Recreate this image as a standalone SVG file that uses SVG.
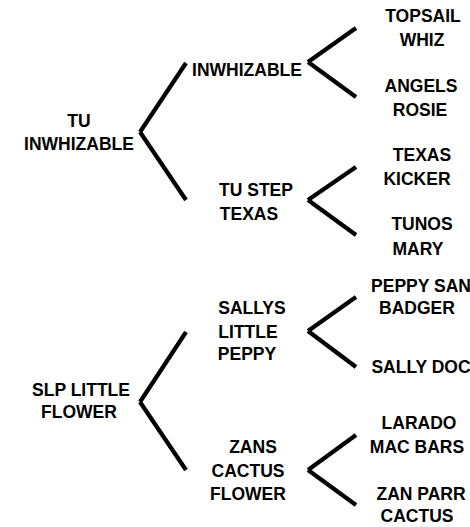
<svg xmlns="http://www.w3.org/2000/svg" width="470" height="527" viewBox="0 0 470 527">
<style>
text{font-family:"Liberation Sans",Arial,sans-serif;font-weight:bold;font-size:17.5px;fill:#000;text-anchor:middle}
.c path{fill:none;stroke:#000;stroke-width:4.2;stroke-linecap:butt}
</style>
<rect width="470" height="527" fill="#fff"/>
<g class="c" id="connectors">
<path d="M186,63 L140,132"/><path d="M140,132 L186,200"/>
<path d="M356,28 L308,62"/><path d="M308,62 L356,97"/>
<path d="M356,167 L308,200"/><path d="M308,200 L356,235"/>
<path d="M186,332 L140,402"/><path d="M140,402 L186,470"/>
<path d="M356,297 L308,331"/><path d="M308,331 L356,367"/>
<path d="M356,435 L308,470"/><path d="M308,470 L356,505"/>
</g>
<g id="tu-inwhizable"><text x="79" y="127">TU</text><text x="79" y="150">INWHIZABLE</text></g>
<g id="inwhizable"><text x="247" y="76">INWHIZABLE</text></g>
<g id="tu-step-texas"><text x="256" y="196">TU STEP</text><text x="249" y="220">TEXAS</text></g>
<g id="topsail-whiz"><text x="423" y="22">TOPSAIL</text><text x="422" y="46">WHIZ</text></g>
<g id="angels-rosie"><text x="421" y="92">ANGELS</text><text x="420" y="116">ROSIE</text></g>
<g id="texas-kicker"><text x="422" y="161">TEXAS</text><text x="417" y="185">KICKER</text></g>
<g id="tunos-mary"><text x="422" y="230">TUNOS</text><text x="418" y="255">MARY</text></g>
<g id="slp-little-flower"><text x="81" y="396">SLP LITTLE</text><text x="79" y="418">FLOWER</text></g>
<g id="sallys-little-peppy"><text x="252" y="314">SALLYS</text><text x="248" y="338">LITTLE</text><text x="247" y="360">PEPPY</text></g>
<g id="zans-cactus-flower"><text x="253" y="453">ZANS</text><text x="248" y="477">CACTUS</text><text x="248" y="500">FLOWER</text></g>
<g id="peppy-san-badger"><text x="421" y="292">PEPPY SAN</text><text x="417" y="314">BADGER</text></g>
<g id="sally-doc"><text x="421" y="373">SALLY DOC</text></g>
<g id="larado-mac-bars"><text x="419" y="429">LARADO</text><text x="417" y="453">MAC BARS</text></g>
<g id="zan-parr-cactus"><text x="421" y="500">ZAN PARR</text><text x="417" y="522">CACTUS</text></g>
</svg>
